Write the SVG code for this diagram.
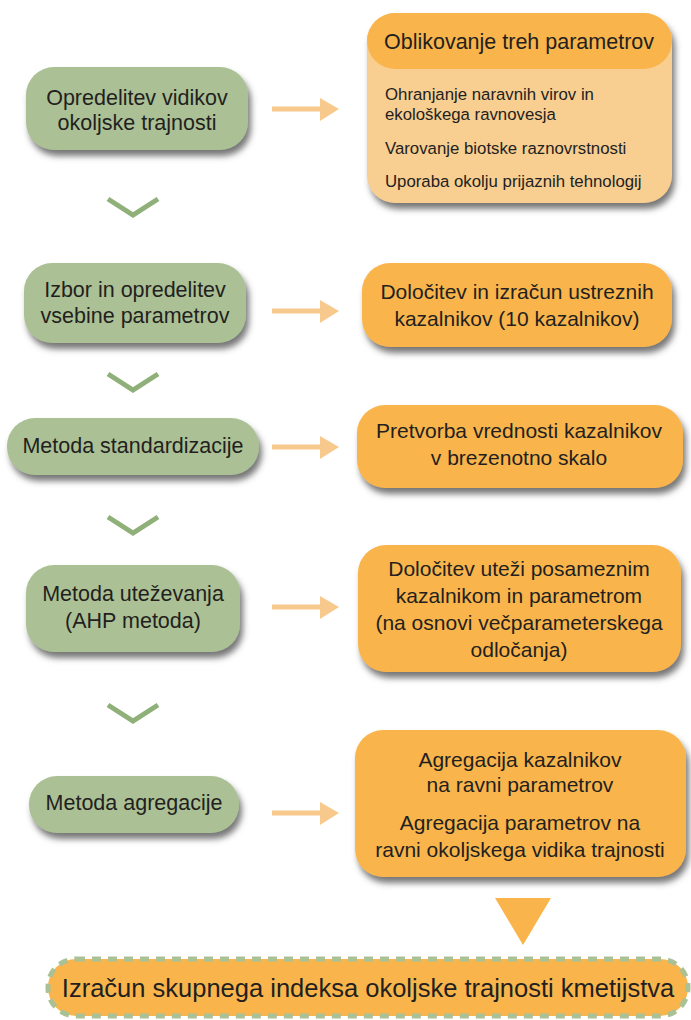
<svg xmlns="http://www.w3.org/2000/svg" width="691" height="1020" viewBox="0 0 691 1020">
<defs>
<filter id="sh" x="-10%" y="-20%" width="125%" height="150%">
<feDropShadow dx="3" dy="6" stdDeviation="3" flood-color="#4a4a4a" flood-opacity="0.75"/>
</filter>
<style>
text{font-family:"Liberation Sans",Arial,sans-serif;fill:#231F20;}
.t{font-size:21px;text-anchor:middle;}
.tg{font-size:21.5px;text-anchor:middle;}
.b{font-size:16.8px;}
.g{fill:#ABC195;}
.o{fill:#F9B54B;}
.lo{fill:#F8CE91;}
.chev{fill:none;stroke:#8FB078;stroke-width:5;}
.arr{stroke:#F8C98D;stroke-width:5;fill:none;}
.ah{fill:#F8C98D;}
</style>
</defs>
<rect width="691" height="1020" fill="#ffffff"/>

<g id="connectors">
<polyline class="chev" points="108,199 133,215 158,199"/>
<polyline class="chev" points="108,374 133,390 158,374"/>
<polyline class="chev" points="108,517 133,533 158,517"/>
<polyline class="chev" points="108,705 133,721 158,705"/>
<line class="arr" x1="272" y1="109" x2="322" y2="109"/><polygon class="ah" points="320,98 339,109 320,121"/>
<line class="arr" x1="272" y1="311" x2="322" y2="311"/><polygon class="ah" points="320,300 339,311 320,323"/>
<line class="arr" x1="272" y1="447" x2="322" y2="447"/><polygon class="ah" points="320,436 339,447 320,459"/>
<line class="arr" x1="272" y1="607" x2="322" y2="607"/><polygon class="ah" points="320,596 339,607 320,619"/>
<line class="arr" x1="272" y1="813" x2="322" y2="813"/><polygon class="ah" points="320,802 339,813 320,825"/>
<polygon class="o" points="495,898 551,898 523,945"/>
</g>

<g id="g1">
<rect class="g" x="26" y="67" width="222" height="83" rx="28" filter="url(#sh)"/>
<text class="tg" x="137" y="105">Opredelitev vidikov</text>
<text class="tg" x="137" y="130">okoljske trajnosti</text>
</g>
<g id="g2">
<rect class="g" x="24" y="263" width="222" height="80" rx="28" filter="url(#sh)"/>
<text class="tg" x="135" y="297">Izbor in opredelitev</text>
<text class="tg" x="135" y="323">vsebine parametrov</text>
</g>
<g id="g3">
<rect class="g" x="7" y="418" width="252" height="57" rx="28" filter="url(#sh)"/>
<text class="tg" x="133" y="453">Metoda standardizacije</text>
</g>
<g id="g4">
<rect class="g" x="26" y="565" width="214" height="87" rx="28" filter="url(#sh)"/>
<text class="tg" x="133" y="601">Metoda uteževanja</text>
<text class="tg" x="133" y="628">(AHP metoda)</text>
</g>
<g id="g5">
<rect class="g" x="29" y="776" width="210" height="57" rx="28" filter="url(#sh)"/>
<text class="tg" x="134" y="810">Metoda agregacije</text>
</g>

<g id="o1">
<rect class="lo" x="367" y="13" width="305" height="190" rx="28" filter="url(#sh)"/>
<rect class="o" x="367" y="13" width="305" height="56" rx="28"/>
<text x="519" y="49" style="font-size:21.5px;text-anchor:middle">Oblikovanje treh parametrov</text>
<text class="b" x="385" y="100">Ohranjanje naravnih virov in</text>
<text class="b" x="385" y="120">ekološkega ravnovesja</text>
<text class="b" x="385" y="154">Varovanje biotske raznovrstnosti</text>
<text class="b" x="385" y="187">Uporaba okolju prijaznih tehnologij</text>
</g>
<g id="o2">
<rect class="o" x="362" y="263" width="310" height="84" rx="28" filter="url(#sh)"/>
<text class="t" x="517" y="299">Določitev in izračun ustreznih</text>
<text class="t" x="517" y="326">kazalnikov (10 kazalnikov)</text>
</g>
<g id="o3">
<rect class="o" x="357" y="405" width="326" height="83" rx="28" filter="url(#sh)"/>
<text class="t" x="519" y="438">Pretvorba vrednosti kazalnikov</text>
<text class="t" x="519" y="465">v brezenotno skalo</text>
</g>
<g id="o4">
<rect class="o" x="358" y="545" width="323" height="127" rx="28" filter="url(#sh)"/>
<text class="t" x="519" y="576">Določitev uteži posameznim</text>
<text class="t" x="519" y="603">kazalnikom in parametrom</text>
<text class="t" x="519" y="630">(na osnovi večparameterskega</text>
<text class="t" x="519" y="657">odločanja)</text>
</g>
<g id="o5">
<rect class="o" x="355" y="730" width="331" height="147" rx="28" filter="url(#sh)"/>
<text class="t" x="520" y="767">Agregacija kazalnikov</text>
<text class="t" x="520" y="792">na ravni parametrov</text>
<text class="t" x="520" y="830">Agregacija parametrov na</text>
<text class="t" x="520" y="857">ravni okoljskega vidika trajnosti</text>
</g>

<g id="final">
<rect x="48" y="959" width="640" height="57" rx="28" fill="#F9B54B" stroke="#A9C195" stroke-width="5" stroke-dasharray="9,7"/>
<text x="368" y="997" style="font-size:25.5px;text-anchor:middle">Izračun skupnega indeksa okoljske trajnosti kmetijstva</text>
</g>
</svg>
